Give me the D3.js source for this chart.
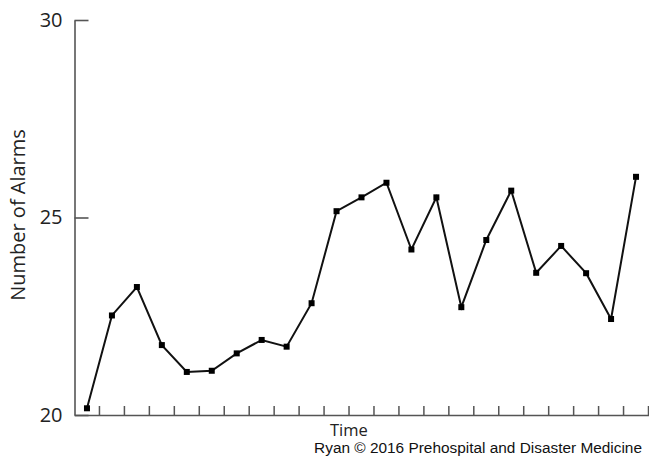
<!DOCTYPE html>
<html><head><meta charset="utf-8">
<script src="https://cdn.jsdelivr.net/npm/d3@7"></script>
<style>body{margin:0;background:#fff}svg{display:block}</style>
</head><body>
<svg id="c" width="649" height="463"></svg>
<script>
const periods = d3.range(1, 24);
const alarms = [20.17, 22.52, 23.24, 21.77, 21.09, 21.12, 21.56, 21.9, 21.73, 22.83, 25.16, 25.51, 25.88, 24.19, 25.51, 22.73, 24.43, 25.68, 23.6, 24.28, 23.59, 22.43, 26.03];
const yTicks = [20, 25, 30];
const yLabel = "Number of Alarms";
const xLabel = "Time";
const credit = "Ryan © 2016 Prehospital and Disaster Medicine";

(function () {
const svg = d3.select("#c");
const mLeft = 74.5, mRight = 648.5, mTop = 20, mBottom = 415;
const x = d3.scaleBand().domain(periods).range([mLeft, mRight]).padding(0);
const y = d3.scaleLinear().domain([20, 30]).range([mBottom, mTop]);
const axisColor = "#555";

// y axis
const ya = svg.append("g").attr("transform", `translate(${mLeft},0)`)
  .call(d3.axisLeft(y).tickValues(yTicks).tickSize(0).tickPadding(12));
ya.select(".domain").attr("stroke", axisColor).attr("stroke-width", 1.6);
ya.selectAll("text").attr("font-family", "'Open Sans', sans-serif").attr("font-size", 20).attr("fill", "#222");
ya.selectAll(".tick").append("line").attr("x1", 0).attr("x2", 14).attr("stroke", axisColor).attr("stroke-width", 1.6);

// x axis
const xa = svg.append("g").attr("transform", `translate(0,${mBottom})`)
  .call(d3.axisBottom(x).tickFormat("").tickSize(0).tickSizeOuter(0));
xa.select(".domain").attr("stroke", axisColor).attr("stroke-width", 1.6);
xa.selectAll(".tick").remove();
xa.selectAll(".bt").data(periods).enter().append("line").attr("class", "bt")
  .attr("x1", d => x(d) + x.bandwidth()).attr("x2", d => x(d) + x.bandwidth())
  .attr("y1", 0).attr("y2", -9).attr("stroke", axisColor).attr("stroke-width", 1.5);

// line
const cx = (d, i) => x(periods[i]) + x.bandwidth() / 2;
svg.append("path").datum(alarms)
  .attr("fill", "none").attr("stroke", "#111").attr("stroke-width", 2)
  .attr("d", d3.line().x(cx).y(d => y(d)));
svg.selectAll(".pt").data(alarms).enter().append("rect").attr("class", "pt")
  .attr("x", (d, i) => cx(d, i) - 3).attr("y", d => y(d) - 3)
  .attr("width", 6).attr("height", 6).attr("fill", "#000");

// labels
svg.append("text").attr("transform", `translate(25,215) rotate(-90)`)
  .attr("text-anchor", "middle").attr("font-family", "'Open Sans', sans-serif")
  .attr("font-size", 20).attr("fill", "#222").text(yLabel);
svg.append("text").attr("x", 330).attr("y", 436)
  .attr("font-family", "'Open Sans', sans-serif").attr("font-size", 16.5).attr("fill", "#222").text(xLabel);
svg.append("text").attr("x", 642).attr("y", 453).attr("text-anchor", "end")
  .attr("font-family", "'Liberation Sans', Arial, sans-serif").attr("font-size", 15.4).attr("fill", "#111").text(credit);
})();
</script>
</body></html>
